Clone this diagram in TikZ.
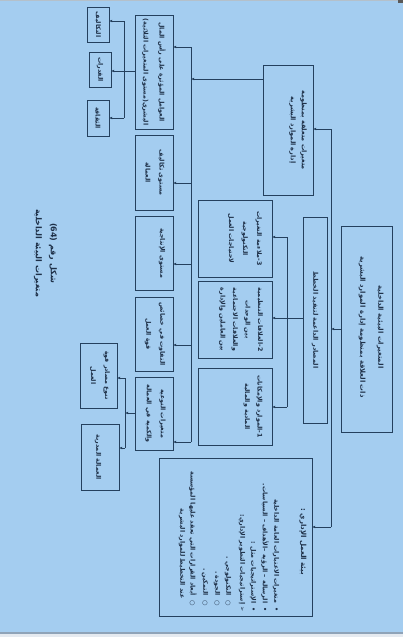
\documentclass[tikz,border=0pt]{standalone}
\usepackage{fontspec}
\newfontfamily\arabicfont[Script=Arabic]{DejaVu Sans}
\newfontfamily\latfont{DejaVu Sans}
\TeXXeTstate=1
\usetikzlibrary{arrows.meta}
\newcommand\ar[1]{{\arabicfont\bfseries\beginR #1\endR}}
\newcommand\ltr[1]{\beginL{\latfont\bfseries #1}\endL}
\definecolor{bg}{HTML}{A4CDF0}
\definecolor{ink}{HTML}{24405E}
\definecolor{txt}{HTML}{1E3048}
\definecolor{topgray}{HTML}{B4C0CA}
\definecolor{botline}{HTML}{8FA3B8}
\definecolor{botfill}{HTML}{E5EAF0}
\begin{document}
\begin{tikzpicture}[x=1pt,y=-1pt,
  box/.style={draw=ink, line width=0.8pt, inner sep=0pt, outer sep=0pt},
  lbl/.style={rotate=-90, align=center, text=txt, font=\fontsize{6.3}{14}\selectfont, inner sep=0pt},
  item/.style={rotate=-90, anchor=east, text=txt, font=\fontsize{6.3}{10}\selectfont, inner sep=0pt},
  arr/.style={draw=ink, line width=0.65pt, -{Latex[length=3.2pt,width=2.8pt]}},
  ln/.style={draw=ink, line width=0.65pt}]
\useasboundingbox (0,0) rectangle (403,637);
\fill[bg] (0,0) rectangle (403,637);
\fill[topgray] (0,0) rectangle (403,1.3);
\fill[black!65] (398,0) rectangle (403,2.5);
\fill[botfill] (0,633) rectangle (403,637);
\fill[botline] (0,632.3) rectangle (403,633.6);

% boxes
\node[box, minimum width=22pt, minimum height=35pt] (A) at (98,24.5) {};
\node[box, minimum width=22pt, minimum height=35pt] (B) at (100,69.5) {};
\node[box, minimum width=22pt, minimum height=36pt] (C) at (98,118) {};
\node[box, minimum width=38pt, minimum height=114pt] (D) at (154,72) {};
\node[box, minimum width=38pt, minimum height=75pt] (E) at (154,172.5) {};
\node[box, minimum width=38pt, minimum height=74pt] (F) at (154,253) {};
\node[box, minimum width=38pt, minimum height=74pt] (G) at (154,334) {};
\node[box, minimum width=38pt, minimum height=73pt] (H) at (154,413.5) {};
\node[box, minimum width=37pt, minimum height=65pt] (I) at (98.5,375.5) {};
\node[box, minimum width=38pt, minimum height=66pt] (J) at (100,457) {};
\node[box, minimum width=50pt, minimum height=130pt] (K) at (288,130) {};
\node[box, minimum width=74pt, minimum height=77pt] (L) at (235,238.5) {};
\node[box, minimum width=74pt, minimum height=77pt] (M) at (235,319.5) {};
\node[box, minimum width=74pt, minimum height=77pt] (N) at (235,406.5) {};
\node[box, minimum width=24pt, minimum height=206pt] (O) at (315,320) {};
\node[box, minimum width=51pt, minimum height=206pt] (P) at (366.5,329) {};
\node[box, minimum width=153pt, minimum height=158pt] (Q) at (235.5,537) {};

% labels
\node[lbl] (tA) at (98,24.5) {\ar{التكاليف}};
\node[lbl] (tB) at (100,69.5) {\ar{القدرات}};
\node[lbl] (tC) at (98,118) {\ar{الثقافة}};
\node[lbl, font=\fontsize{6.3}{16}\selectfont] (tD) at (154,72) {\ar{العوامل المؤثرة على رأس المال}\\\ar{البشري(مستوى المتغيرات الثلاثية)}};
\node[lbl] (tE) at (155,172.5) {\ar{مستوى تكاليف}\\\ar{العمالة}};
\node[lbl] (tF) at (162,253) {\ar{مستوى الإنتاجية}};
\node[lbl] (tG) at (155,334) {\ar{التفاوت في خصائص}\\\ar{قوة العمل}};
\node[lbl] (tH) at (155.5,413.5) {\ar{متغيرات النوعية}\\\ar{والكمية في العمالة}};
\node[lbl] (tI) at (100,375.5) {\ar{تنوع مصادر قوة}\\\ar{العمل}};
\node[lbl] (tJ) at (98,457) {\ar{العمالة المدربة}};
\node[lbl, font=\fontsize{6.5}{11}\selectfont] (tK) at (298,130) {\ar{متغيرات متعلقة بمنظومة}\\\ar{إدارة الموارد البشرية}};
\node[lbl, font=\fontsize{6.3}{14}\selectfont] (tL) at (245,238.5) {\ar{\ltr{3}\kern0pt\ltr{-}\kern0pt ملاءمة التغيرات}\\\ar{التكنولوجية}\\\ar{لاحتياجات العمل}};
\node[lbl, font=\fontsize{6.3}{12.5}\selectfont] (tM) at (241,319.5) {\ar{\ltr{2}\kern0pt\ltr{-}\kern0pt العلاقات التنظيمية}\\\ar{بين الوحدات}\\\ar{والعلاقات الاجتماعية}\\\ar{بين العاملين والإدارة}};
\node[lbl, font=\fontsize{6.3}{12.5}\selectfont] (tN) at (253,406.5) {\ar{\ltr{1}\kern0pt\ltr{-}\kern0pt الموارد والإمكانات}\\\ar{المادية والمالية}};
\node[lbl, font=\fontsize{6.5}{14}\selectfont] (tO) at (315,320) {\ar{المصادر الداعمة لتنفيذ الخطط}};
\node[lbl, font=\fontsize{6.8}{18}\selectfont] (tP) at (371,327) {\ar{المتغيرات البيئية الداخلية}\\\ar{ذات العلاقة بمنظومة إدارة الموارد البشرية}};

% list in Q
\node[lbl, font=\fontsize{7}{10}\selectfont] (q0) at (303,542) {\ar{بيئة العمل الإداري :}};
\node[item] (q1) at (276,612) {\ar{• \ متغيرات الاعتبارات العامة الداخلية}};
\node[item] (q2) at (265,612) {\ar{• \ الرسالة – الرؤية –الأهداف – السياسات.}};
\node[item] (q3) at (253,612) {\ar{• \ الإستراتيجيات مثل :}};
\node[item] (q4) at (242,612) {\ar{{\latfont ➢}\ إستراتيجيات التطوير الإداري:}};
\node[item] (q5) at (228,606) {\ar{○ \ التكنولوجي .}};
\node[item] (q6) at (217,606) {\ar{○ \ الجودة .}};
\node[item] (q7) at (205,606) {\ar{○ \ التمكين .}};
\node[item] (q8) at (193,606) {\ar{○ \ أبعاد القرارات التي تعقد عليها المؤسسة}};
\node[item] (q9) at (182,599) {\ar{عند التخطيط للموارد البشرية}};

% title
\node[lbl, font=\fontsize{8}{15}\selectfont] (title) at (45.5,253) {\ar{شكل رقم \ltr{(64)}}\\\ar{متغيرات البيئة الداخلية}};

% main bus
\coordinate (bt) at (191,47);
\coordinate (bb) at (191,442);
\coordinate (bK) at (191,79);
\coordinate (bE) at (191,183);
\coordinate (bF) at (191,264);
\coordinate (bG) at (191,345);
\draw[ln] (bt) -- (bb);
\draw[arr] (bt) -- (bt -| D.east);
\draw[arr] (bE) -- (bE -| E.east);
\draw[arr] (bF) -- (bF -| F.east);
\draw[arr] (bG) -- (bG -| G.east);
\draw[arr] (bb) -- (bb -| H.east);
\draw[arr] (K.west |- bK) -- (bK);

% top-left bracket
\coordinate (lt) at (124,21);
\coordinate (lb) at (124,118);
\coordinate (lm) at (124,71);
\draw[ln] (lt) -- (lb);
\draw[arr] (lt) -- (lt -| A.east);
\draw[arr] (lb) -- (lb -| C.east);
\draw[arr] (D.west |- lm) -- (B.east |- lm);

% bottom-left bracket
\coordinate (mt) at (125,378);
\coordinate (mb) at (125,448);
\coordinate (mm) at (125,413);
\draw[ln] (mt) -- (mb);
\draw[arr] (mt) -- (mt -| I.east);
\draw[arr] (mb) -- (mb -| J.east);
\draw[arr] (H.west |- mm) -- (mm);

% middle bracket
\coordinate (ct) at (287,237);
\coordinate (cb) at (287,407);
\coordinate (cm) at (287,318);
\draw[ln] (ct) -- (cb);
\draw[arr] (ct) -- (ct -| L.east);
\draw[arr] (cb) -- (cb -| N.east);
\draw[arr] (O.west |- cm) -- (M.east |- cm);

% right bracket
\coordinate (rt) at (331,129);
\coordinate (rb) at (331,527);
\coordinate (rm) at (331,329);
\draw[ln] (rt) -- (rb);
\draw[arr] (rt) -- (rt -| K.east);
\draw[arr] (rb) -- (rb -| Q.east);
\draw[arr] (P.west |- rm) -- (rm);
\end{tikzpicture}
\end{document}
